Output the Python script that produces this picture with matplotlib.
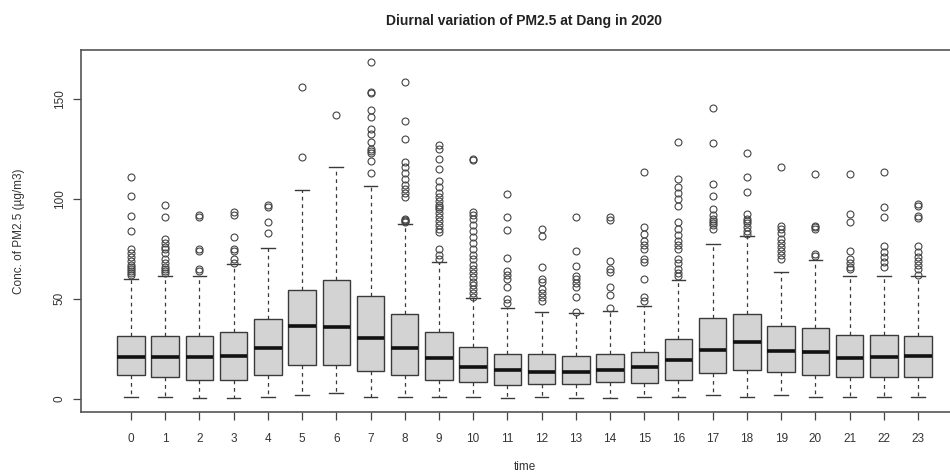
import matplotlib
matplotlib.use("Agg")
import matplotlib.pyplot as plt

# ----------------------------
# Data
# ----------------------------
hours = list(range(24))

q1 = [12, 11, 9.5, 9.5, 12, 17, 17, 14, 12, 9.5, 8.5, 7, 7.5, 7.5, 8.5, 8,
      9.5, 13, 14.5, 13.5, 12, 11, 11, 11]
med = [21, 21, 21, 21.5, 25.5, 36.5, 36, 30.5, 25.5, 20.5, 16, 14.5, 13.5, 13.5,
       14.5, 16, 19.5, 24.5, 28.5, 24, 23.5, 20.5, 21, 21.5]
q3 = [31.5, 31.5, 31.5, 33.5, 40, 54.5, 59.5, 51.5, 42.5, 33.5, 26, 22.5, 22.5,
      21.5, 22.5, 23.5, 30, 40.5, 42.5, 36.5, 35.5, 32, 32, 31.5]
whis_lo = [1, 1, 0.5, 0.5, 1, 2, 3, 1, 1, 1, 1, 0.5, 1, 0.5, 0.5, 1, 1, 2, 1, 2,
           1, 1, 1, 1]
whis_hi = [60, 61.5, 61.5, 67.5, 75.5, 104.5, 116, 106.5, 87.5, 68.5, 50.5, 45.5,
           43.5, 43, 44, 46.5, 59.5, 77.5, 81.5, 63.5, 69.5, 61.5, 61.5, 61.5]

outliers = [
    [111, 101.5, 91.5, 84, 75, 73, 71, 69, 67, 66, 65, 64, 63, 62],
    [97, 91, 80, 78, 76, 75, 73, 70, 68, 66, 65, 64, 63],
    [92, 91, 75, 74, 65, 64],
    [93.5, 92, 81, 75, 74, 70, 68],
    [97, 96, 88.5, 83],
    [156, 121],
    [142],
    [168.5, 153.5, 153, 144.5, 141, 135, 132.5, 128.5, 125, 124, 123, 119, 113],
    [158.5, 139, 130, 118.5, 116, 113, 110, 107, 105, 103, 101, 90, 89.5, 89, 88.5],
    [127, 125, 120, 115, 109, 106, 103, 101, 99, 97, 96, 95, 93, 91, 89, 87,
     85, 83.5, 75, 72, 70],
    [120, 119.5, 93.5, 92, 90, 87, 84, 81, 78, 75, 72, 70, 67, 65, 63, 61,
     58.5, 57, 55, 53, 51],
    [102.5, 91, 84.5, 70.5, 64, 62, 60, 56, 50, 48],
    [85, 81.5, 66, 60, 58.5, 55, 53, 51, 49],
    [91, 74, 66.5, 61.5, 60, 58, 56, 51, 43.5],
    [91, 89.5, 69, 65, 63.5, 56, 52, 45.5],
    [113.5, 86, 82.5, 79, 77, 75, 70, 68.5, 60, 51, 49],
    [128.5, 110, 106, 103, 100, 96.5, 88.5, 85, 82, 79, 77, 75, 70, 68, 65,
     63, 61.5],
    [145.5, 128, 107.5, 101.5, 95, 92, 90, 89, 88, 87, 85],
    [123, 111, 103.5, 92.5, 90, 89, 88, 86, 84, 82.5],
    [116, 86.5, 85, 83, 80, 78, 76, 74, 72, 70],
    [112.5, 86.5, 86, 85, 72.5, 71.5],
    [112.5, 92.5, 88.5, 74, 70, 68, 66, 65],
    [113.5, 96, 91, 76.5, 73.5, 71, 68.5, 66],
    [97.5, 96.5, 91.5, 90.5, 76.5, 73.5, 71, 69, 67, 65, 62],
]

title = "Diurnal variation of PM2.5 at Dang in 2020"
ylabel = "Conc. of PM2.5 (µg/m3)"
xlabel = "time"

# ----------------------------
# Plot
# ----------------------------
plt.rcParams["font.family"] = ["Liberation Sans", "DejaVu Sans"]

fig = plt.figure(figsize=(9.5, 4.76), dpi=100)
# axes right edge runs past the picture (the reference is cropped there)
ax = fig.add_axes([81 / 950, 1 - 412 / 476, 887 / 950, 362 / 476])

stats = []
for i in range(len(hours)):
    stats.append({
        "med": med[i], "q1": q1[i], "q3": q3[i],
        "whislo": whis_lo[i], "whishi": whis_hi[i],
        "fliers": outliers[i],
    })

edge = "#3a3a3a"
ax.bxp(
    stats, positions=hours, widths=0.8, patch_artist=True,
    boxprops=dict(facecolor="#d3d3d3", edgecolor=edge, linewidth=1.0),
    medianprops=dict(color="#111111", linewidth=2.6, solid_capstyle="butt"),
    whiskerprops=dict(color=edge, linewidth=0.9, linestyle=(0, (3, 3))),
    capprops=dict(color=edge, linewidth=1.0),
    capwidths=0.4,
    flierprops=dict(marker="o", markersize=5, markerfacecolor="none",
                    markeredgecolor="#444444", markeredgewidth=0.8),
)

ax.set_xlim(-1.46, 24.46)
ax.set_ylim(-6.7, 174.7)

ax.set_xticks(hours)
ax.set_xticklabels([str(h) for h in hours])
ax.set_yticks([0, 50, 100, 150])
ax.set_yticklabels(["0", "50", "100", "150"], rotation=90, va="center")

for s in ax.spines.values():
    s.set_color("#555555")
    s.set_linewidth(1.2)

ax.tick_params(axis="both", colors="#444444", labelcolor="#333333",
               length=6, width=0.9, labelsize=8.5)
ax.tick_params(axis="x", pad=9)
ax.tick_params(axis="y", pad=5)

ax.set_xlabel(xlabel, fontsize=8.5, color="#333333", labelpad=12)
ax.set_ylabel(ylabel, fontsize=8.5, color="#333333", labelpad=21)
ax.set_title(title, fontsize=10, fontweight="bold", color="#222222", pad=18)

fig.savefig("out.png", dpi=100)
plt.close(fig)
